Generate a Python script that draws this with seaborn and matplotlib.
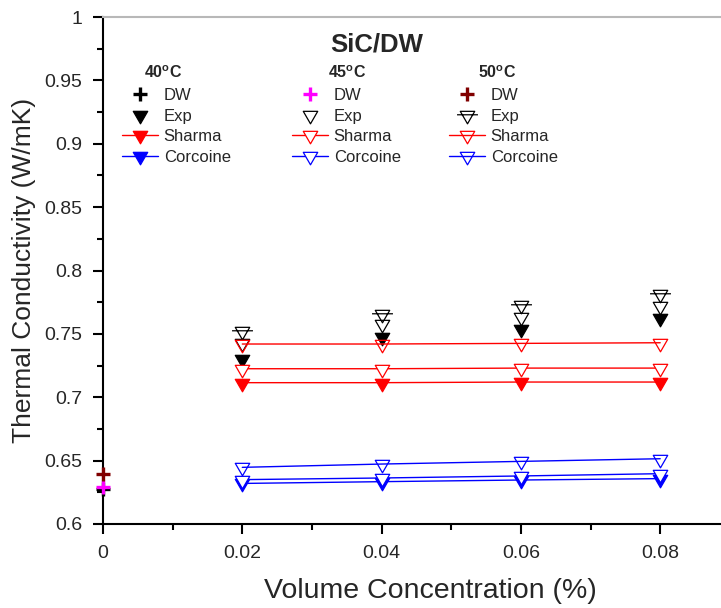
import numpy as np
import pandas as pd
import seaborn as sns
import matplotlib
matplotlib.use("Agg")
import matplotlib.pyplot as plt
from matplotlib.path import Path
from matplotlib.legend import Legend
from matplotlib.ticker import MultipleLocator, FuncFormatter

# ---- data -----------------------------------------------------------------
conc = [0.02, 0.04, 0.06, 0.08]          # volume concentration (%)
dw_conc = [0.0]

dw_40 = [0.628]
dw_45 = [0.6295]
dw_50 = [0.6395]

exp_40 = [0.7305, 0.7478, 0.7542, 0.7628]
exp_45 = [0.7426, 0.7576, 0.7636, 0.7720]
exp_50 = [0.7523, 0.7660, 0.7725, 0.7812]

sharma_40 = [0.7115, 0.7115, 0.7120, 0.7120]
sharma_45 = [0.7225, 0.7225, 0.7230, 0.7230]
sharma_50 = [0.7420, 0.7420, 0.7425, 0.7430]

corcoine_40 = [0.6320, 0.6334, 0.6347, 0.6358]
corcoine_45 = [0.6350, 0.6363, 0.6379, 0.6397]
corcoine_50 = [0.6447, 0.6473, 0.6494, 0.6515]

temps = ["40", "45", "50"]
entry_labels = ["DW", "Exp", "Sharma", "Corcoine"]

# ---- style ------------------------------------------------------------------
sns.set_style("ticks")
plt.rcParams["font.family"] = ["Liberation Sans", "DejaVu Sans"]
plt.rcParams["mathtext.fontset"] = "custom"
plt.rcParams["mathtext.rm"] = "Liberation Sans"
plt.rcParams["mathtext.bf"] = "Liberation Sans:bold"

# down-pointing triangle centred on its centroid
tri = Path([(-1, 0.577), (1, 0.577), (0, -1.155), (0, 0)],
           [Path.MOVETO, Path.LINETO, Path.LINETO, Path.CLOSEPOLY])
# same triangle crossed by a short bar
tri_bar = Path([(-1, 0.577), (1, 0.577), (0, -1.155), (0, 0),
                (-1.45, 0.1), (1.45, 0.1)],
               [Path.MOVETO, Path.LINETO, Path.LINETO, Path.CLOSEPOLY,
                Path.MOVETO, Path.LINETO])
MS_TRI = 12
MS_TRI_BAR = MS_TRI * 1.45 / 1.155

RED = "#FF0000"
BLUE = "#0000FF"

W, H = 721, 608
fig = plt.figure(figsize=(W / 100, H / 100), dpi=100)
ax = fig.add_axes([103 / W, 84 / H, (W - 103) / W, 507 / H])


def series(x, y, **kw):
    sns.lineplot(x=x, y=y, ax=ax, errorbar=None, clip_on=False, **kw)
    return ax.lines[-1]


handles = {t: [] for t in temps}

# DW (base fluid) points
for t, vals, col in zip(temps, [dw_40, dw_45, dw_50], ["black", "#FF00FF", "#800000"]):
    handles[t].append(series(dw_conc, vals, marker="+", markersize=9.5,
                             markeredgewidth=2.4, color=col,
                             markeredgecolor=col, linestyle="", zorder=5))

# experimental points
exp_style = {
    "40": dict(marker=tri, markersize=MS_TRI, markerfacecolor="black"),
    "45": dict(marker=tri, markersize=MS_TRI, markerfacecolor="white"),
    "50": dict(marker=tri_bar, markersize=MS_TRI_BAR, markerfacecolor="none"),
}
for t, vals in zip(temps, [exp_40, exp_45, exp_50]):
    handles[t].append(series(conc, vals, color="black", linestyle="",
                             markeredgecolor="black", markeredgewidth=0.9,
                             zorder=3, **exp_style[t]))

# model predictions
face = {"40": None, "45": "white", "50": "none"}
for col, model in [(RED, [sharma_40, sharma_45, sharma_50]),
                   (BLUE, [corcoine_40, corcoine_45, corcoine_50])]:
    for t, vals in zip(temps, model):
        handles[t].append(series(conc, vals, color=col, linewidth=1.0,
                                 marker=tri, markersize=MS_TRI,
                                 markeredgecolor=col, markeredgewidth=0.9,
                                 markerfacecolor=face[t] or col, zorder=4))

# ---- axes -------------------------------------------------------------------
ax.set_xlim(0, (W - 103) / 6965)
ax.set_ylim(0.6, 1.0)
ax.xaxis.set_major_locator(MultipleLocator(0.02))
ax.xaxis.set_minor_locator(MultipleLocator(0.01))
ax.yaxis.set_major_locator(MultipleLocator(0.05))
ax.yaxis.set_minor_locator(MultipleLocator(0.025))
fmt = FuncFormatter(lambda v, p: "%g" % round(v, 4))
ax.xaxis.set_major_formatter(fmt)
ax.yaxis.set_major_formatter(fmt)
ax.set_xticks([0, 0.02, 0.04, 0.06, 0.08])
ax.tick_params(which="major", direction="out", length=7, width=1.5,
               labelsize=14, pad=8, color="black")
ax.tick_params(which="minor", direction="out", length=4, width=1.5,
               color="black")
for s in ["left", "bottom"]:
    ax.spines[s].set_linewidth(1.5)
    ax.spines[s].set_color("black")
ax.spines["top"].set_color("#b8b8b8")
ax.spines["top"].set_linewidth(1.5)
ax.spines["right"].set_visible(False)

ax.set_xlabel("Volume Concentration (%)", fontsize=20.5)
ax.set_ylabel("Thermal Conductivity (W/mK)", fontsize=19)
ax.xaxis.set_label_coords((430 - 103) / (W - 103), -0.107)
ax.yaxis.set_label_coords(-0.108, 0.5)

# ---- title and legends ------------------------------------------------------
fig.text(377 / W, 1 - 44 / H, "SiC/DW", ha="center", va="center",
         fontsize=18.5, fontweight="bold")

head_x = {"40": 163, "45": 347, "50": 497}
leg_x = {"40": 122, "45": 292, "50": 449}
for t in temps:
    fig.text(head_x[t] / W, 1 - 73 / H, t + r"$^{\mathbf{o}}$C",
             ha="center", va="center", fontsize=11.5, fontweight="bold")
    leg = Legend(ax, handles[t], entry_labels, loc="upper left",
                 bbox_to_anchor=(leg_x[t] / W, 1 - 88 / H),
                 bbox_transform=fig.transFigure, frameon=False,
                 fontsize=12, handlelength=2.15, handletextpad=0.35,
                 labelspacing=0.34, borderpad=0, borderaxespad=0,
                 numpoints=1)
    ax.add_artist(leg)

fig.savefig("out.png", dpi=100)
